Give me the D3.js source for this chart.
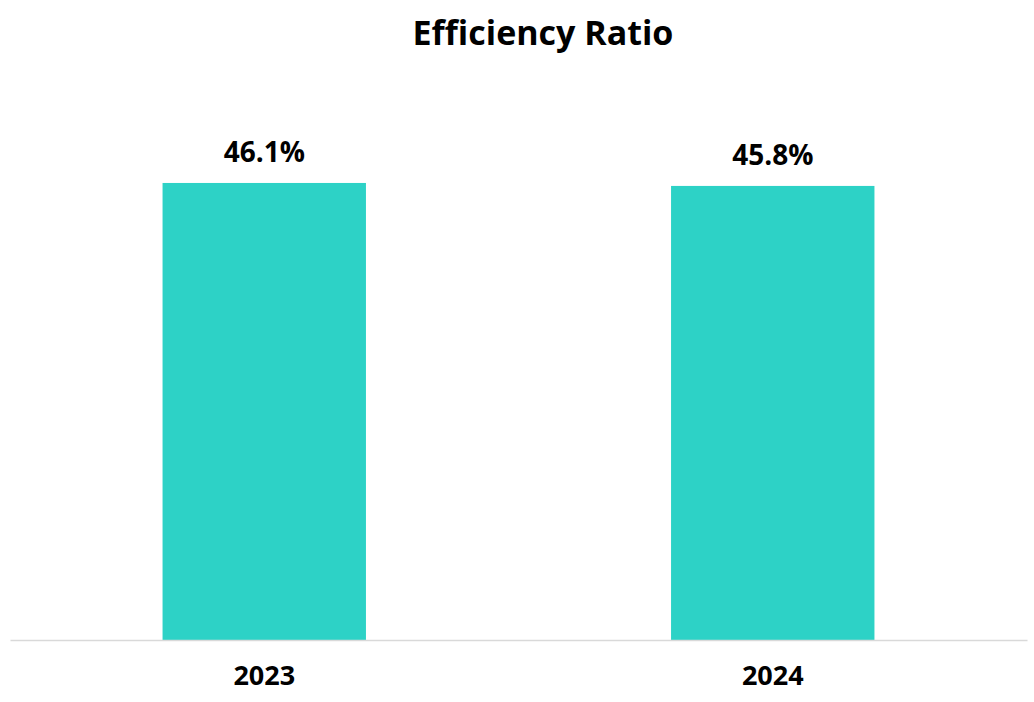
<!DOCTYPE html>
<html><head><meta charset="utf-8">
<script src="https://cdn.jsdelivr.net/npm/d3@7"></script>
<style>body{margin:0;background:#fff}text{font-family:"Open Sans",sans-serif;font-weight:700;fill:#000}</style>
</head><body>
<svg id="c" width="1034" height="702"></svg>
<script>
const categories = ["2023", "2024"];
const values = [46.1, 45.8];
const valueLabels = ["46.1%", "45.8%"];
const title = "Efficiency Ratio";

const svg = d3.select("#c");
const x = d3.scaleBand().domain(categories).range([10, 1027]).paddingInner(0.6).paddingOuter(0.3);
const y = d3.scaleLinear().domain([0, 50]).range([640, 144.3]);

svg.append("text").attr("x", 543).attr("y", 45).attr("text-anchor", "middle")
  .style("font-size", "34px").text(title);

svg.selectAll("rect.bar").data(values).join("rect").attr("class", "bar")
  .attr("x", (d, i) => x(categories[i])).attr("width", x.bandwidth())
  .attr("y", d => y(d)).attr("height", d => y(0) - y(d)).attr("fill", "#2dd2c6");

svg.selectAll("text.val").data(values).join("text").attr("class", "val")
  .attr("x", (d, i) => x(categories[i]) + x.bandwidth() / 2)
  .attr("y", d => y(d) - 21).attr("text-anchor", "middle")
  .style("font-size", "28px").text((d, i) => valueLabels[i]);

const axis = svg.append("g").attr("transform", "translate(0,640)")
  .call(d3.axisBottom(x).tickSize(0).tickPadding(26));
axis.select(".domain").attr("stroke", "#d9d9d9").attr("stroke-width", 1.5);
axis.selectAll(".tick text").style("font-size", "27px").style("font-family", '"Open Sans",sans-serif').style("font-weight", "700").attr("fill", "#000");
</script>
</body></html>
